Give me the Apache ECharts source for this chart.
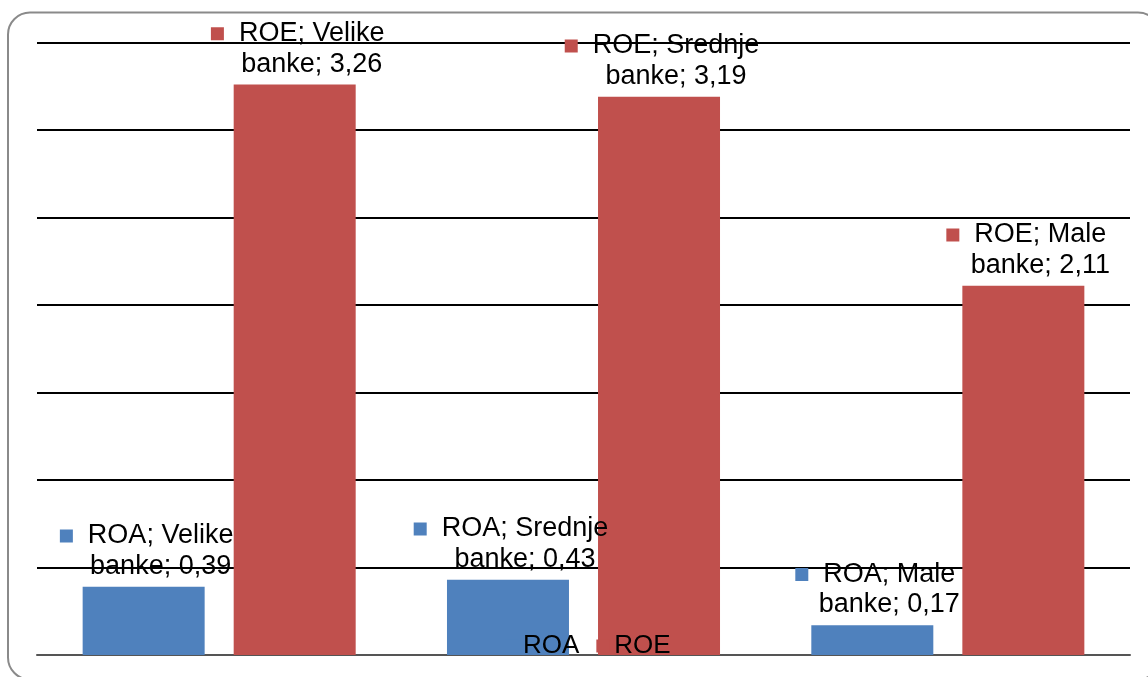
<!DOCTYPE html>
<html>
<head>
<meta charset="utf-8">
<script src="https://cdn.jsdelivr.net/npm/echarts@6/dist/echarts.min.js"></script>
<style>
html,body{margin:0;padding:0;background:#fff;}
#chart{width:1148px;height:677px;}
</style>
</head>
<body>
<div id="chart"></div>
<script>
const categories = ['Velike banke', 'Srednje banke', 'Male banke'];
const roaValues = [0.39, 0.43, 0.17];
const roeValues = [3.26, 3.19, 2.11];
const seriesNames = ['ROA', 'ROE'];
const colors = ['#4F81BD', '#C0504D'];

const FONT = '"Liberation Sans", Arial, sans-serif';

function makeLabel(color) {
  return {
    show: true,
    position: 'top',
    distance: 5,
    offset: [3, 0],
    align: 'center',
    formatter: function (p) {
      const parts = p.name.split(' ');
      const v = p.value.toFixed(2).replace('.', ',');
      return '{m|}{s|}{t|' + p.seriesName + '; ' + parts[0] + '}\n{p|}{t|' + parts[1] + '; ' + v + '}';
    },
    rich: {
      m: { width: 13, height: 13, backgroundColor: color },
      s: { width: 15, height: 13 },
      p: { width: 28, height: 13 },
      t: { fontSize: 27, lineHeight: 30.5, color: '#000', fontFamily: FONT }
    }
  };
}

const chart = echarts.init(document.getElementById('chart'), null, { renderer: 'canvas' });
chart.setOption({
  animation: false,
  backgroundColor: '#fff',
  textStyle: { fontFamily: FONT },
  grid: { left: 37, right: 18, top: 42.5, bottom: 22, containLabel: false },
  graphic: [{
    type: 'rect',
    z: -10,
    silent: true,
    shape: { x: 8, y: 12.5, width: 1152, height: 667, r: 22 },
    style: { fill: 'none', stroke: '#8a8a8a', lineWidth: 2 }
  }],
  legend: {
    data: seriesNames,
    left: 505,
    top: 633,
    padding: 0,
    itemWidth: 13,
    itemHeight: 13,
    itemGap: 17,
    icon: 'rect',
    textStyle: { fontSize: 26, color: '#000', fontFamily: FONT }
  },
  xAxis: {
    type: 'category',
    data: categories,
    axisLine: { show: true, lineStyle: { color: '#555', width: 2 } },
    axisTick: { show: false },
    axisLabel: { show: false },
    splitLine: { show: false }
  },
  yAxis: {
    type: 'value',
    min: 0,
    max: 3.5,
    interval: 0.5,
    axisLine: { show: false },
    axisTick: { show: false },
    axisLabel: { show: false },
    splitLine: { show: true, lineStyle: { color: '#000', width: 2 } }
  },
  series: [
    {
      name: seriesNames[0],
      type: 'bar',
      data: roaValues,
      barWidth: 122,
      barGap: '23.8%',
      itemStyle: { color: colors[0] },
      label: makeLabel(colors[0])
    },
    {
      name: seriesNames[1],
      type: 'bar',
      data: roeValues,
      barWidth: 122,
      barGap: '23.8%',
      itemStyle: { color: colors[1] },
      label: makeLabel(colors[1])
    }
  ]
});
</script>
</body>
</html>
